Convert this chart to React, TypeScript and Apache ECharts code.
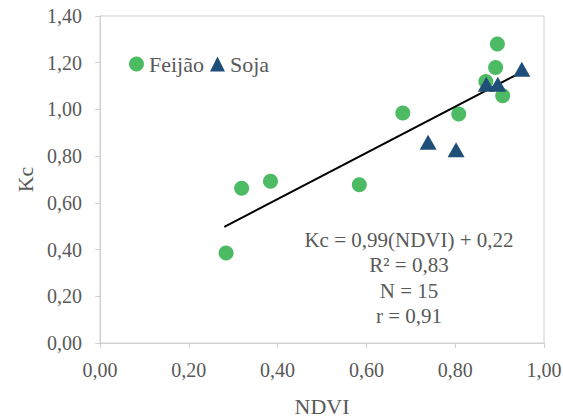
import React, { useEffect, useRef } from "react";
import * as echarts from "echarts";

const feijaoNdvi = [0.284, 0.319, 0.384, 0.584, 0.682, 0.808, 0.895, 0.891, 0.869, 0.907];
const feijaoKc = [0.385, 0.663, 0.692, 0.678, 0.985, 0.98, 1.28, 1.18, 1.12, 1.059];
const sojaNdvi = [0.739, 0.802, 0.87, 0.896, 0.95];
const sojaKc = [0.86, 0.827, 1.108, 1.108, 1.172];
const trendNdvi = [0.28, 0.95];
const trendKc = [0.497, 1.16];
const seriesNames = ["Feijão", "Soja"];
const annotationLines = ["Kc = 0,99(NDVI) + 0,22", "R² = 0,83", "N = 15", "r = 0,91"];
const xTitle = "NDVI";
const yTitle = "Kc";

const FONT = "Liberation Serif";
const GRAY = "#595959";
const AXIS = "#d0d0d0";
const fmt = (v: number) => v.toFixed(2).replace(".", ",");

export default function App() {
  const ref = useRef<HTMLDivElement>(null);
  useEffect(() => {
    document.body.style.margin = "0";
    const chart = echarts.init(ref.current!, null, { renderer: "svg" });
    chart.setOption({
      animation: false,
      backgroundColor: "#ffffff",
      textStyle: { fontFamily: FONT },
      grid: {
        left: 100,
        right: 19,
        top: 16,
        bottom: 74,
        show: true,
        borderColor: AXIS,
        borderWidth: 1,
        outerBoundsMode: "none",
      },
      legend: {
        left: 124,
        top: 48,
        itemWidth: 15,
        itemHeight: 15,
        itemGap: 6,
        textStyle: { fontFamily: FONT, fontSize: 22, color: GRAY },
        data: [
          { name: seriesNames[0], icon: "circle" },
          { name: seriesNames[1], icon: "triangle" },
        ],
      },
      xAxis: {
        type: "value",
        min: 0,
        max: 1,
        interval: 0.2,
        name: xTitle,
        nameLocation: "middle",
        nameGap: 52,
        nameTextStyle: { fontFamily: FONT, fontSize: 22, color: GRAY },
        axisLine: { show: true, lineStyle: { color: AXIS, width: 1 } },
        axisTick: { show: true, inside: false, length: 5, lineStyle: { color: AXIS } },
        splitLine: { show: false },
        axisLabel: { fontFamily: FONT, fontSize: 20, color: GRAY, margin: 17, formatter: fmt },
      },
      yAxis: {
        type: "value",
        min: 0,
        max: 1.4,
        interval: 0.2,
        name: yTitle,
        nameLocation: "middle",
        nameGap: 64,
        nameRotate: 90,
        nameTextStyle: { fontFamily: FONT, fontSize: 22, color: GRAY },
        axisLine: { show: true, lineStyle: { color: AXIS, width: 1 } },
        axisTick: { show: true, inside: false, length: 5, lineStyle: { color: AXIS } },
        splitLine: { show: false },
        axisLabel: { fontFamily: FONT, fontSize: 20, color: GRAY, margin: 18, formatter: fmt },
      },
      series: [
        {
          name: "trend",
          type: "line",
          data: trendNdvi.map((x, i) => [x, trendKc[i]]),
          showSymbol: false,
          symbol: "none",
          lineStyle: { color: "#000000", width: 2 },
          z: 3,
        },
        {
          name: seriesNames[0],
          type: "scatter",
          symbol: "circle",
          symbolSize: 15,
          itemStyle: { color: "#4cbb63", opacity: 1 },
          data: feijaoNdvi.map((x, i) => [x, feijaoKc[i]]),
          z: 2,
        },
        {
          name: seriesNames[1],
          type: "scatter",
          symbol: "triangle",
          symbolSize: [17, 15],
          itemStyle: { color: "#1f4e79", opacity: 1 },
          data: sojaNdvi.map((x, i) => [x, sojaKc[i]]),
          z: 4,
        },
      ],
      graphic: annotationLines.map((t, i) => ({
        type: "text",
        x: 409,
        y: 240 + i * 25.3,
        style: {
          text: t,
          fontFamily: FONT,
          fontSize: 21,
          fill: GRAY,
          align: "center",
          verticalAlign: "middle",
        },
      })),
    });
    return () => chart.dispose();
  }, []);
  return (
    <div
      ref={ref}
      style={{ position: "absolute", left: 0, top: 0, width: 563, height: 417 }}
    />
  );
}
